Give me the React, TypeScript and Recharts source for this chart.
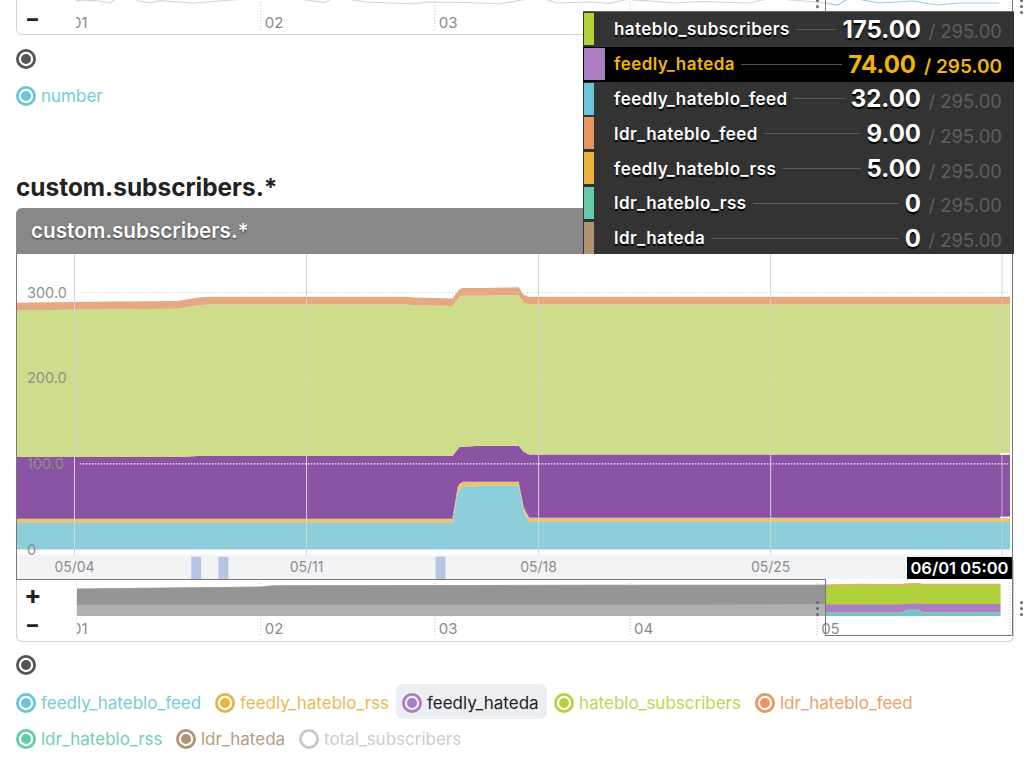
import React from 'react';
import { AreaChart, Area, LineChart, Line, XAxis, YAxis, CartesianGrid, ReferenceLine, ReferenceArea } from 'recharts';

// main chart: x is days since 05/04
const days = [-1.735, 0.44, 3.11, 3.73, 4.06, 10.05, 10.21, 11.4, 11.56, 11.62, 11.72, 12.25, 13.4, 13.55, 13.72, 28.22];
const feedlyHatebloFeed = [31, 31, 31, 31, 31, 31, 31, 31, 66, 70, 73, 74, 74, 44, 32, 32];
const feedlyHatebloRss = [5, 5, 5, 5, 5, 5, 5, 5, 7, 7, 6, 5, 5, 5, 5, 5];
const feedlyHateda = [72, 72, 72, 73, 73, 73, 73, 73, 44, 43, 41, 42, 42, 65, 74, 74];
const hatebloSubscribers = [171, 172, 173, 176, 177, 177, 176, 175, 175, 175, 176, 175, 176, 174, 175, 175];
const ldrHatebloFeed = [9, 9, 9, 9, 9, 9, 9, 9, 9, 9, 9, 9, 9, 9, 9, 9];
const ldrHatebloRss = [0, 0, 0, 0, 0, 0, 0, 0, 0, 0, 0, 0, 0, 0, 0, 0];
const ldrHateda = [0, 0, 0, 0, 0, 0, 0, 0, 0, 0, 0, 0, 0, 0, 0, 0];

const dayTicks = [0, 7, 14, 21];
const dayTickLabels = ['05/04', '05/11', '05/18', '05/25'];
const valueTicks = [0, 100, 200, 300];
const alertBands = [[3.52, 3.82], [4.34, 4.64], [10.89, 11.19]];

// navigator: x is days since 01/01
const navDays = [1.3, 31, 33, 60, 90, 120, 122.5, 127, 134, 135.2, 136.7, 137.5, 150];
const navFeed = [30, 30, 30, 30, 30, 31, 31, 31, 31, 55, 55, 32, 32];
const navRss = [4, 4, 4, 4, 4, 5, 5, 5, 5, 5, 5, 5, 5];
const navHateda = [68, 68, 68, 68, 68, 70, 72, 73, 72, 57, 58, 74, 74];
const navHateblo = [148, 166, 178, 180, 183, 174, 172, 177, 176, 176, 176, 175, 175];
const navLdr = [0, 0, 0, 0, 0, 7, 9, 9, 9, 9, 9, 9, 9];
const navTicks = [0, 31, 59, 90.4, 120.5, 151.5];
const navTickLabels = ['01', '02', '03', '04', '05', ''];
const topTickLabels = ['01', '02', '03', '', '', ''];

// strip of the chart above, cut off by the top of the page
const topDays = [1.3, 2.3, 5.1, 6.8, 7.6, 10.9, 11.3, 13.2, 14.8, 20.1, 23.3, 26.5, 28.5, 37.3, 38.3, 41.3, 42.4, 45.3, 45.7, 48.1, 55.5, 57.7, 64.1, 69.5, 73, 74.3, 76.7, 77.2, 78.6, 83.9, 87.1, 89.5, 90.4, 90.7, 90.8, 93.6, 97.6, 101.6, 109.6, 111.7, 112.9, 115.3, 116.1, 118.5, 121.7, 123.8, 125.4, 127.3, 127.8, 130.5, 135.9, 139.7, 143.4, 149.8];
const topNumber = [3, 4, 3, 1, 5, 5, 3, 1, 3.3, 1, 2.5, 4, 5, 5, 4, 1.3, 5, 5, 4, 2, 0, 2, 1.5, 0, 4, 5, 5, 4, 1, 2, 0.7, 4, 5, 5, 4, 3, 1, 2.5, 1, 4, 5, 5, 4, 3, 1, -1, 5, 5, 4, 1, 3, -1, 1, 1];

const tooltipNames = ['hateblo_subscribers', 'feedly_hateda', 'feedly_hateblo_feed', 'ldr_hateblo_feed', 'feedly_hateblo_rss', 'ldr_hateblo_rss', 'ldr_hateda'];
const tooltipSeries = [hatebloSubscribers, feedlyHateda, feedlyHatebloFeed, ldrHatebloFeed, feedlyHatebloRss, ldrHatebloRss, ldrHateda];
const tooltipColors = ['#b3d33d', '#a97fc2', '#6ac5d8', '#ea9560', '#e8b33f', '#63cba9', '#b1936f'];
const tooltipTotal = 295;

const chartData = days.map((day, i) => ({
  day,
  feedlyHatebloFeed: feedlyHatebloFeed[i],
  feedlyHatebloRss: feedlyHatebloRss[i],
  feedlyHateda: feedlyHateda[i],
  hatebloSubscribers: hatebloSubscribers[i],
  ldrHatebloFeed: ldrHatebloFeed[i],
  ldrHatebloRss: ldrHatebloRss[i],
  ldrHateda: ldrHateda[i],
}));

const navData = navDays.map((day, i) => ({
  day,
  feed: navFeed[i],
  rss: navRss[i],
  hateda: navHateda[i],
  hateblo: navHateblo[i],
  ldr: navLdr[i],
}));

const topData = topDays.map((day, i) => ({ day, number: topNumber[i] }));

const FONT = 'Inter, "Noto Sans", sans-serif';
const FRAME = '#777';

const Box: React.FC<{ x: number; y: number; w: number; h: number; style?: React.CSSProperties; children?: React.ReactNode }> = ({ x, y, w, h, style, children }) => (
  <div style={{ position: 'absolute', left: x, top: y, width: w, height: h, ...style }}>{children}</div>
);

const Ring: React.FC<{ cx: number; cy: number; color: string; filled?: boolean }> = ({ cx, cy, color, filled = true }) => (
  <svg style={{ position: 'absolute', left: cx - 11, top: cy - 11 }} width={22} height={22}>
    <circle cx={11} cy={11} r={8.6} fill="none" stroke={color} strokeWidth={2.8} />
    {filled && <circle cx={11} cy={11} r={5} fill={color} />}
  </svg>
);

const LegendItem: React.FC<{ cx: number; cy: number; color: string; label: string; dark?: boolean; filled?: boolean }> = ({ cx, cy, color, label, dark, filled }) => (
  <>
    <Ring cx={cx} cy={cy} color={color} filled={filled} />
    <span style={{ position: 'absolute', left: cx + 15, top: cy - 12, fontSize: 17, lineHeight: '24px', color: dark ? '#222' : color, opacity: dark ? 1 : 0.9, whiteSpace: 'nowrap' }}>{label}</span>
  </>
);

const HandleDots: React.FC<{ x: number; y: number }> = ({ x, y }) => (
  <>
    {[0, 6, 12].map((d) => (
      <div key={d} style={{ position: 'absolute', left: x - 1.5, top: y + d, width: 3, height: 3, borderRadius: 2, background: '#666' }} />
    ))}
  </>
);

const Tooltipish: React.FC = () => (
  <Box x={583} y={11} w={431} h={243} style={{ background: '#333', borderTop: '1.5px solid #666', boxSizing: 'border-box' }}>
    {tooltipNames.map((name, i) => {
      const active = i === 1;
      const value = tooltipSeries[i][tooltipSeries[i].length - 1];
      return (
        <div key={name} style={{ position: 'absolute', left: 0, top: i * 34.8, width: 431, height: 34.8, display: 'flex', alignItems: 'center', background: active ? '#000' : 'transparent', color: active ? '#f2b600' : '#fff', boxSizing: 'border-box', paddingLeft: 31 }}>
          <div style={{ position: 'absolute', left: 1, top: 1, width: active ? 21 : 10, height: 32, background: tooltipColors[i] }} />
          <span style={{ fontSize: 17, letterSpacing: 0.45, fontWeight: 600, textShadow: active ? 'none' : '0 2px 1px #000', whiteSpace: 'nowrap' }}>{name}</span>
          <div style={{ flex: 1, height: 1, background: active ? '#555' : '#5c5c5c', margin: '0 6px' }} />
          <span style={{ fontSize: 24, fontWeight: 700, textShadow: active ? 'none' : '0 2px 1px #000', whiteSpace: 'nowrap' }}>{value === 0 ? '0' : value.toFixed(2)}</span>
          <span style={{ width: active ? 86 : 81, position: 'relative', top: 2, textAlign: 'right', marginRight: 12, fontSize: active ? 19 : 18.5, fontWeight: active ? 600 : 400, color: active ? '#f2b600' : '#5f5f5f', whiteSpace: 'nowrap' }}>{'/ ' + tooltipTotal.toFixed(2)}</span>
        </div>
      );
    })}
  </Box>
);

const SplitFill: React.FC<{ id: string; grey: string; color: string }> = ({ id, grey, color }) => (
  <linearGradient id={id} x1="0" y1="0" x2="1" y2="0">
    <stop offset="81%" stopColor={grey} />
    <stop offset="81%" stopColor={color} />
  </linearGradient>
);

export default function App() {
  return (
    <div style={{ position: 'absolute', left: 0, top: 0, width: 1024, height: 761, overflow: 'hidden', fontFamily: FONT, background: '#fff' }}>
      {/* chart above, only its bottom edge shows */}
      <Box x={16} y={-20} w={997} h={55} style={{ border: '1.5px solid #d0d0d0', borderRadius: 6, boxSizing: 'border-box' }} />
      <div style={{ position: 'absolute', left: 0, top: -40 }}>
        <LineChart width={1013} height={70} data={topData} margin={{ top: 0, right: 0, bottom: 0, left: 68 }}>
          <defs>
            <linearGradient id="topStroke" x1="0" y1="0" x2="1" y2="0">
              <stop offset="81%" stopColor="#d4d4d4" />
              <stop offset="81%" stopColor="#8fd4e0" />
            </linearGradient>
          </defs>
          <CartesianGrid horizontal={false} stroke="#c4c4c4" strokeDasharray="1 2" />
          <XAxis dataKey="day" type="number" domain={[0, 152]} ticks={navTicks} mirror axisLine={false} tickLine={false} tickSize={0} tickMargin={2} interval={0}
            tickFormatter={(v) => topTickLabels[navTicks.indexOf(v)]} tick={{ fill: '#8a8a8a', fontSize: 15, textAnchor: 'start', dx: 4 }} />
          <YAxis hide domain={[-26, 44]} />
          <Line dataKey="number" type="linear" stroke="url(#topStroke)" strokeWidth={1.2} dot={false} isAnimationActive={false} />
        </LineChart>
      </div>
      <Box x={825} y={-2} w={188} h={14} style={{ border: `1.5px solid ${FRAME}`, borderBottom: 'none', boxSizing: 'border-box', background: 'transparent' }} />
      <Box x={60} y={0} w={16} h={33} style={{ background: '#fff' }} />
      <span style={{ position: 'absolute', left: 25, top: 4, fontSize: 22, fontWeight: 700, lineHeight: '28px', color: '#222' }}>−</span>
      <HandleDots x={817} y={-1} />
      <HandleDots x={1021} y={-1} />

      <Ring cx={26} cy={59} color="#555" />
      <LegendItem cx={26} cy={96} color="#6ac5d8" label="number" />

      <div style={{ position: 'absolute', left: 16, top: 171, fontSize: 24.4, lineHeight: '32px', fontWeight: 700, color: '#222', whiteSpace: 'nowrap' }}>custom.subscribers.*</div>
      <Box x={16} y={208} w={997} h={46} style={{ background: '#888', borderRadius: '6px 6px 0 0' }} />
      <div style={{ position: 'absolute', left: 31, top: 216, fontSize: 20.7, lineHeight: '30px', fontWeight: 600, color: '#fff', textShadow: '0 1px 2px #333', whiteSpace: 'nowrap' }}>custom.subscribers.*</div>

      {/* main chart */}
      <div style={{ position: 'absolute', left: 17, top: 254 }}>
        <AreaChart width={993} height={325} data={chartData} margin={{ top: 0, right: 0, bottom: 0, left: 0 }}>
          <XAxis dataKey="day" type="number" domain={[-1.735, 28.22]} allowDataOverflow ticks={dayTicks} mirror axisLine={false} tickLine={false} tickSize={0} tickMargin={7} interval={0}
            tickFormatter={(v) => dayTickLabels[dayTicks.indexOf(v)]} tick={{ fill: '#8c8c8c', fontSize: 14 }} />
          <YAxis type="number" domain={[-34.4, 344.8]} allowDataOverflow ticks={valueTicks} mirror axisLine={false} tickLine={false} tickSize={0} tickMargin={10} interval={0}
            tickFormatter={(v) => (v === 0 ? '0' : v.toFixed(1))} tick={{ fill: '#8f8f8f', fontSize: 14.5 }} />
          <ReferenceArea x1={-1.735} x2={28.22} y1={-34.4} y2={-6.2} fill="#f2f3f5" fillOpacity={1} stroke="none" />
          {alertBands.map(([x1, x2]) => (
            <ReferenceArea key={x1} x1={x1} x2={x2} y1={-34.4} y2={-8.5} fill="#b5c6e3" fillOpacity={1} stroke="none" />
          ))}
          <Area dataKey="feedlyHatebloFeed" stackId="a" type="linear" stroke="none" fill="#8ccfdb" fillOpacity={1} isAnimationActive={false} />
          <Area dataKey="feedlyHatebloRss" stackId="a" type="linear" stroke="none" fill="#e8c378" fillOpacity={1} isAnimationActive={false} />
          <Area dataKey="feedlyHateda" stackId="a" type="linear" stroke="none" fill="#8b53a4" fillOpacity={1} isAnimationActive={false} />
          <Area dataKey="hatebloSubscribers" stackId="a" type="linear" stroke="none" fill="#cddd8a" fillOpacity={1} isAnimationActive={false} />
          <Area dataKey="ldrHatebloFeed" stackId="a" type="linear" stroke="none" fill="#e5a881" fillOpacity={1} isAnimationActive={false} />
          <Area dataKey="ldrHatebloRss" stackId="a" type="linear" stroke="none" fill="#8fd8bf" fillOpacity={1} isAnimationActive={false} />
          <Area dataKey="ldrHateda" stackId="a" type="linear" stroke="none" fill="#c9b195" fillOpacity={1} isAnimationActive={false} />
          {dayTicks.map((d) => (
            <ReferenceLine key={d} segment={[{ x: d, y: -6.2 }, { x: d, y: 344.8 }]} stroke="#d4d4d4" strokeWidth={1} />
          ))}
          <ReferenceLine segment={[{ x: 0.16, y: 0 }, { x: 28.2, y: 0 }]} stroke="#dde1e6" strokeDasharray="1 2" />
          <ReferenceLine segment={[{ x: 0.16, y: 100 }, { x: 28.2, y: 100 }]} stroke="#ffffff" strokeDasharray="1.5 1.5" strokeWidth={1.2} />
          <ReferenceLine segment={[{ x: 0.16, y: 200 }, { x: 28.2, y: 200 }]} stroke="#ffffff" strokeOpacity={0.35} strokeDasharray="1 2" />
          <ReferenceLine segment={[{ x: 0.16, y: 300 }, { x: 28.2, y: 300 }]} stroke="#bcc8d8" strokeDasharray="1 2" />
          <ReferenceLine segment={[{ x: 27.98, y: -6.2 }, { x: 27.98, y: 344.8 }]} stroke="#cfcfcf" strokeOpacity={0.8} />
          <ReferenceLine segment={[{ x: 27.92, y: 111.5 }, { x: 28.22, y: 111.5 }]} stroke="#fff" strokeWidth={1.5} />
          <ReferenceLine segment={[{ x: 27.92, y: 37.5 }, { x: 28.22, y: 37.5 }]} stroke="#fff" strokeWidth={1.5} />
        </AreaChart>
      </div>

      {/* time label under the cursor */}
      <Box x={907} y={557} w={105} h={22} style={{ background: '#000', color: '#fff', fontSize: 16.5, fontWeight: 600, lineHeight: '22px', textAlign: 'center', whiteSpace: 'nowrap' }}>06/01 05:00</Box>

      {/* card frame */}
      <Box x={16} y={560} w={998} h={82} style={{ borderLeft: '1.5px solid #d0d0d0', borderRight: '1.5px solid #d0d0d0', borderBottom: '1.5px solid #d0d0d0', borderRadius: '0 0 6px 6px', boxSizing: 'border-box' }} />

      {/* navigator */}
      <div style={{ position: 'absolute', left: 0, top: 583 }}>
        <AreaChart width={1013} height={53} data={navData} margin={{ top: 0, right: 0, bottom: 0, left: 68 }}>
          <defs>
            <SplitFill id="navFeed" grey="#b0b0b0" color="#6ac5d8" />
            <SplitFill id="navRss" grey="#b0b0b0" color="#e8b33f" />
            <SplitFill id="navHateda" grey="#b0b0b0" color="#a97fc2" />
            <SplitFill id="navHateblo" grey="#959595" color="#b0d03c" />
            <SplitFill id="navLdr" grey="#959595" color="#ea9560" />
          </defs>
          <CartesianGrid horizontal={false} stroke="#c4c4c4" strokeDasharray="1 2" />
          <XAxis dataKey="day" type="number" domain={[0, 152]} ticks={navTicks} mirror axisLine={false} tickLine={false} tickSize={0} tickMargin={2} interval={0}
            tickFormatter={(v) => navTickLabels[navTicks.indexOf(v)]} tick={{ fill: '#8a8a8a', fontSize: 15, textAnchor: 'start', dx: 4 }} />
          <YAxis hide domain={[-185, 305.6]} />
          <Area dataKey="feed" stackId="n" type="linear" stroke="url(#navFeed)" strokeWidth={0.6} fill="url(#navFeed)" fillOpacity={1} isAnimationActive={false} />
          <Area dataKey="rss" stackId="n" type="linear" stroke="url(#navRss)" strokeWidth={0.6} fill="url(#navRss)" fillOpacity={1} isAnimationActive={false} />
          <Area dataKey="hateda" stackId="n" type="linear" stroke="url(#navHateda)" strokeWidth={0.6} fill="url(#navHateda)" fillOpacity={1} isAnimationActive={false} />
          <Area dataKey="hateblo" stackId="n" type="linear" stroke="url(#navHateblo)" strokeWidth={0.6} fill="url(#navHateblo)" fillOpacity={1} isAnimationActive={false} />
          <Area dataKey="ldr" stackId="n" type="linear" stroke="url(#navLdr)" strokeWidth={0.6} fill="url(#navLdr)" fillOpacity={1} isAnimationActive={false} />
        </AreaChart>
      </div>
      <Box x={60} y={581} w={16} h={56} style={{ background: '#fff', borderRight: '1px solid #eee', boxSizing: 'content-box' }} />
      <span style={{ position: 'absolute', left: 24, top: 581, fontSize: 26, fontWeight: 700, lineHeight: '28px', color: '#222' }}>+</span>
      <span style={{ position: 'absolute', left: 25, top: 610, fontSize: 22, fontWeight: 700, lineHeight: '28px', color: '#222' }}>−</span>
      <HandleDots x={817} y={601} />
      <HandleDots x={1021} y={601} />

      {/* selection frame */}
      <Box x={16} y={254} w={1} h={325} style={{ borderLeft: `1.5px solid ${FRAME}` }} />
      <Box x={1012} y={254} w={1} h={381} style={{ borderLeft: `1.5px solid ${FRAME}` }} />
      <Box x={16} y={578.5} w={809} h={1} style={{ borderTop: `1.5px solid ${FRAME}` }} />
      <Box x={825} y={579} w={1} h={56} style={{ borderLeft: `1.5px solid ${FRAME}` }} />
      <Box x={825} y={634.5} w={188} h={1} style={{ borderTop: `1.5px solid ${FRAME}` }} />

      <Ring cx={26} cy={665} color="#555" />
      <Box x={396} y={684} w={151} h={35} style={{ background: '#edeef1', borderRadius: 7 }} />
      <LegendItem cx={26} cy={703} color="#6ac5d8" label="feedly_hateblo_feed" />
      <LegendItem cx={225} cy={703} color="#e8b33f" label="feedly_hateblo_rss" />
      <LegendItem cx={412} cy={703} color="#a97fc2" label="feedly_hateda" dark />
      <LegendItem cx={564} cy={703} color="#b3d33d" label="hateblo_subscribers" />
      <LegendItem cx={765} cy={703} color="#ea9560" label="ldr_hateblo_feed" />
      <LegendItem cx={26} cy={739} color="#63cba9" label="ldr_hateblo_rss" />
      <LegendItem cx={186} cy={739} color="#b1936f" label="ldr_hateda" />
      <LegendItem cx={309} cy={739} color="#c8c8c8" label="total_subscribers" filled={false} />

      <Tooltipish />
    </div>
  );
}
